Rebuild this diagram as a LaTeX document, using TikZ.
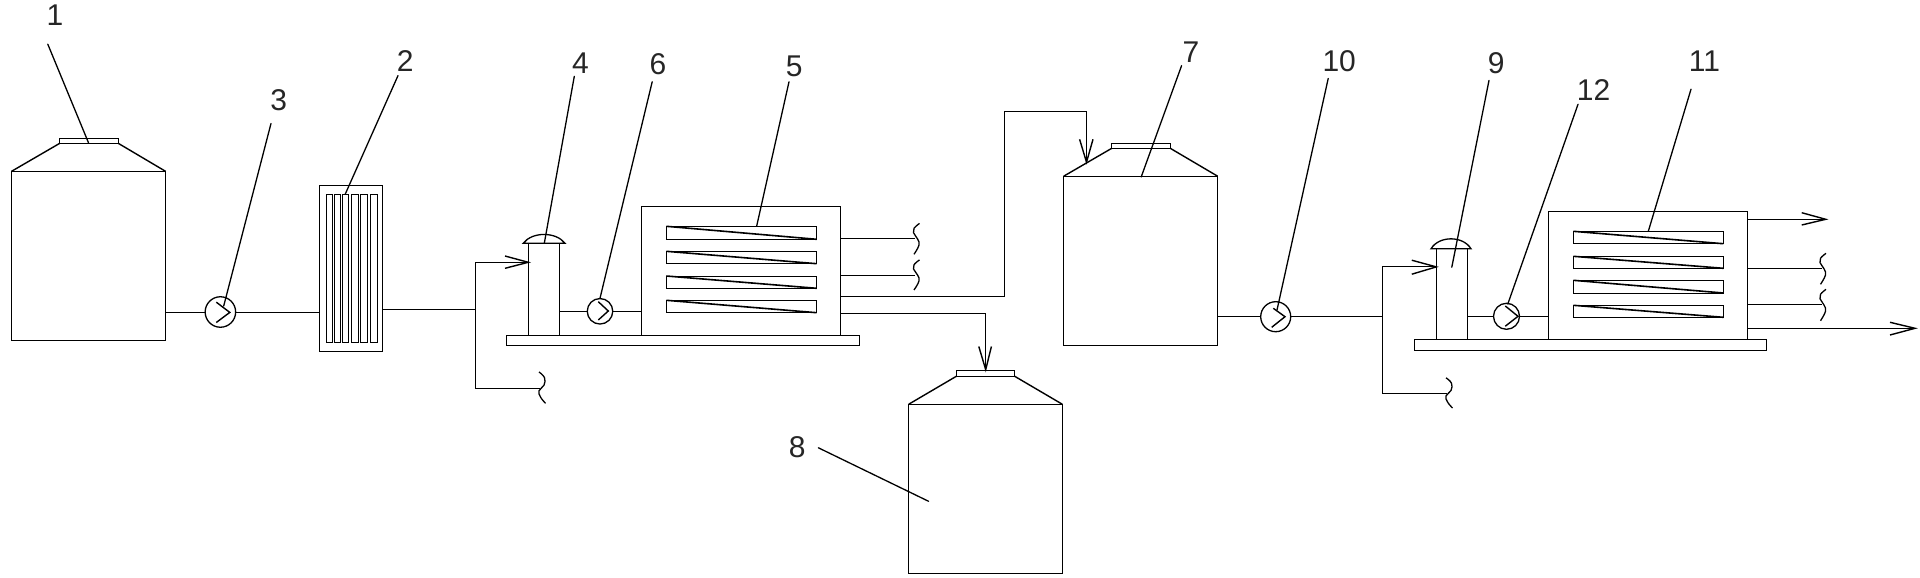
\documentclass[tikz,border=0pt]{standalone}
\usepackage{fontspec}
\setmainfont{Liberation Sans}
\tikzset{
  x=1pt,y=-1pt,
  thinline/.style={line width=1pt,draw=black},
  leader/.style={line width=1.3pt,draw=black,line cap=round},
  diag/.style={line width=1.6pt,draw=black},
  barb/.style={line width=1.4pt,draw=black,line join=miter},
  partbox/.style={draw=black,line width=1pt,inner sep=0pt,outer sep=0pt,fill=none},
  pump/.style={circle,draw=black,line width=1.3pt,inner sep=0pt,outer sep=0pt},
  numlabel/.style={inner sep=0pt,outer sep=0pt,font=\fontsize{30}{30}\selectfont,text=black!85},
}
% name, x1, y1, x2, y2
\newcommand{\partrect}[5]{%
  \pgfmathsetmacro{\wid}{#4-#2}\pgfmathsetmacro{\hei}{#5-#3}%
  \node[partbox,minimum width=\wid pt,minimum height=\hei pt] (#1) at ({(#2+#4)/2},{(#3+#5)/2}) {};}
% name, x1, x2, bodytop, bottom, roof left, roof right, roof top, cap top
\newcommand{\tankpart}[9]{%
  \partrect{#1}{#2}{#4}{#3}{#5}%
  \partrect{#1cap}{#6}{#9}{#7}{#8}%
  \draw[line width=1.4pt] (#1.north west) -- (#1cap.south west);
  \draw[line width=1.4pt] (#1.north east) -- (#1cap.south east);}
% tube with diagonal
\newcommand{\slanttube}[5]{%
  \partrect{#1}{#2}{#3}{#4}{#5}%
  \draw[diag] (#1.north west) -- (#1.south east);}
% break mark: x of left edge, y top, y bottom, opening to the left
\newcommand{\breakmark}[3]{%
  \pgfmathsetmacro{\dy}{(#3-#2)}%
  \draw[line width=1.3pt] plot[smooth,tension=0.7] coordinates {
    ({#1+6.5},{#2}) ({#1+1},{#2+0.16*\dy}) ({#1+0.5},{#2+0.30*\dy}) ({#1+4.5},{#2+0.50*\dy}) ({#1+6},{#2+0.70*\dy}) ({#1+1},{#2+\dy})};}
\newcommand{\breakmarkrev}[3]{%
  \pgfmathsetmacro{\dy}{(#3-#2)}%
  \draw[line width=1.3pt] plot[smooth,tension=0.7] coordinates {
    ({#1},{#2}) ({#1+5.5},{#2+0.18*\dy}) ({#1+5},{#2+0.42*\dy}) ({#1},{#2+0.60*\dy}) ({#1+1.5},{#2+0.80*\dy}) ({#1+6.5},{#2+\dy})};}
\begin{document}
\begin{tikzpicture}
\useasboundingbox[fill=white] (0,0) rectangle (1920,578);

% tanks
\tankpart{tankA}{11.4}{165.7}{171.4}{340.2}{59.6}{118.4}{143.4}{138.2}
\tankpart{tankG}{1063.7}{1217.6}{176.2}{345.4}{1111.4}{1170.6}{148.5}{143.4}
\tankpart{tankH}{908.6}{1062.4}{404.3}{573.2}{956.3}{1014.7}{376.3}{370.4}

% filter 2
\partrect{filt}{319.3}{185.3}{382.7}{351.3}
\partrect{fa}{326.3}{194}{332.7}{342.7}
\partrect{fb}{334.3}{194}{340.7}{342.7}
\partrect{fc}{342.3}{194}{348.7}{342.7}
\partrect{fd}{351.3}{194}{358.7}{342.7}
\partrect{fe}{360.3}{194}{367.7}{342.7}
\partrect{ff}{370.3}{194}{377.7}{342.7}

% first membrane skid
\partrect{baseE}{506.7}{335}{859.6}{345}
\partrect{colD}{528.3}{243.3}{559.3}{335}
\draw[line width=1.3pt] (523.3,243.3) .. controls (532,231.5) and (556,231.5) .. (565,243.3) -- cycle;
\partrect{boxE}{641.7}{206.3}{840.3}{335}
\slanttube{eA}{666.3}{226.3}{816.7}{239.3}
\slanttube{eB}{666.3}{251.3}{816.7}{263.7}
\slanttube{eC}{666.3}{276}{816.7}{288.3}
\slanttube{eD}{666.3}{300.3}{816.7}{312.7}

% second membrane skid
\partrect{baseK}{1414.3}{339.3}{1766.7}{350.3}
\partrect{colI}{1436.3}{248.8}{1467.3}{339.3}
\draw[line width=1.3pt] (1431,248.8) .. controls (1439,235.5) and (1463,235.5) .. (1471,248.8) -- cycle;
\partrect{boxK}{1548.3}{211.7}{1747.7}{339.3}
\slanttube{kA}{1573.3}{231.3}{1723.3}{243.7}
\slanttube{kB}{1573.3}{256.3}{1723.3}{268.3}
\slanttube{kC}{1573.3}{280.3}{1723.3}{293}
\slanttube{kD}{1573.3}{305.3}{1723.3}{317.3}

% pumps
\node[pump,minimum size=30.5pt] (pC) at (220.4,312) {};
\node[pump,minimum size=25.5pt] (pF) at (600,311.3) {};
\node[pump,minimum size=30pt] (pJ) at (1275.7,316.7) {};
\node[pump,minimum size=26pt] (pL) at (1506.5,316.3) {};
\draw[barb] (216.3,302.2) -- (229.8,312.4) -- (216.3,322.5);
\draw[barb] (598.3,301.7) -- (608.3,311) -- (598.3,320);
\draw[barb] (1273.3,308.3) -- (1285,316.7) -- (1271.7,327.3);
\draw[barb] (1505.3,306) -- (1518,316.3) -- (1505.3,326.2);

% pipes
\draw[thinline] (tankA.east |- pC) -- (pC.west);
\draw[thinline] (pC.east) -- (filt.west |- pC);
\coordinate (junA) at (475.3,309.3);
\draw[thinline] (filt.east |- junA) -- (junA);
\coordinate (feedA) at (528.3,262.3);
\coordinate (rejA) at (540,388.3);
\draw[thinline] (feedA) -- (junA |- feedA) -- (junA |- rejA) -- (rejA);
\draw[barb] (505,256) -- (feedA) -- (505,268.3);
\breakmarkrev{539}{372}{403.3}
\draw[thinline] (colD.east |- pF) -- (pF.west);
\draw[thinline] (pF.east) -- (boxE.west |- pF);

\coordinate (oA) at (914.5,238.3);
\coordinate (oB) at (914.5,275.3);
\draw[thinline] (boxE.east |- oA) -- (oA);
\draw[thinline] (boxE.east |- oB) -- (oB);
\breakmark{913}{223.4}{254.3}
\breakmark{913}{259.9}{290}
\coordinate (oC) at (1004.5,296.3);
\coordinate (oCup) at (1004.5,111.3);
\coordinate (tipG) at (1086.5,162.2);
\draw[thinline] (boxE.east |- oC) -- (oC) -- (oCup) -- (tipG |- oCup) -- (tipG);
\draw[barb] (1079.6,139.3) -- (tipG) -- (1093,139.3);
\coordinate (oD) at (985.7,313.3);
\coordinate (tipH) at (985.7,369.7);
\draw[thinline] (boxE.east |- oD) -- (oD) -- (tipH);
\draw[barb] (978.8,346.5) -- (tipH) -- (991.4,346.5);

\draw[thinline] (tankG.east |- pJ) -- (pJ.west);
\coordinate (junB) at (1382,316.7);
\draw[thinline] (pJ.east) -- (junB);
\coordinate (feedB) at (1436.3,266.9);
\coordinate (rejB) at (1447.3,393.3);
\draw[thinline] (feedB) -- (junB |- feedB) -- (junB |- rejB) -- (rejB);
\draw[barb] (1411.8,260.2) -- (feedB) -- (1411.8,274.2);
\breakmarkrev{1446}{377.8}{408}
\draw[thinline] (colI.east |- pL) -- (pL.west);
\draw[thinline] (pL.east) -- (boxK.west |- pL);

\coordinate (tipK) at (1825.7,219.3);
\draw[thinline] (boxK.east |- tipK) -- (tipK);
\draw[barb] (1801.7,212.7) -- (tipK) -- (1801.7,225);
\coordinate (qA) at (1821.7,268.3);
\coordinate (qB) at (1821.7,304.3);
\draw[thinline] (boxK.east |- qA) -- (qA);
\draw[thinline] (boxK.east |- qB) -- (qB);
\breakmark{1819.5}{253.3}{284.3}
\breakmark{1819.5}{289.3}{320.7}
\coordinate (tipL) at (1915,328.3);
\draw[thinline] (boxK.east |- tipL) -- (tipL);
\draw[barb] (1890,322.3) -- (tipL) -- (1890,335);

% number labels and leaders
\node[numlabel] (nA) at (55,15) {1};
\node[numlabel] (nB) at (405.3,60.8) {2};
\node[numlabel] (nC) at (278.8,100.6) {3};
\node[numlabel] (nD) at (580.4,62.7) {4};
\node[numlabel] (nE) at (794.3,66.3) {5};
\node[numlabel] (nF) at (658,64.5) {6};
\node[numlabel] (nG) at (1191,52.3) {7};
\node[numlabel] (nH) at (797.1,447.1) {8};
\node[numlabel] (nI) at (1496.3,62.7) {9};
\node[numlabel] (nJ) at (1339.2,60.8) {10};
\node[numlabel] (nK) at (1704.5,60.8) {11};
\node[numlabel] (nL) at (1593.5,89.6) {12};

\coordinate (lA) at (47.8,44.2);   \coordinate (eA1) at (88.6,143);
\coordinate (lB) at (398,75.6);    \coordinate (eB1) at (345.3,194);
\coordinate (lC) at (271,123.5);   \coordinate (eC1) at (223.7,306);
\coordinate (lD) at (574.3,76.3);  \coordinate (eD1) at (544.3,243.3);
\coordinate (lE) at (789,81.8);    \coordinate (eE1) at (756.7,226);
\coordinate (lF) at (652.2,81.8);  \coordinate (eF1) at (600,298.3);
\coordinate (lG) at (1181.6,65.6); \coordinate (eG1) at (1141.2,176.9);
\coordinate (lH) at (818.4,447.8); \coordinate (eH1) at (928.6,501.3);
\coordinate (lI) at (1489,80.4);   \coordinate (eI1) at (1451.8,267.2);
\coordinate (lJ) at (1328.2,78.5); \coordinate (eJ1) at (1277,310);
\coordinate (lK) at (1691,89.2);   \coordinate (eK1) at (1648.3,231.3);
\coordinate (lL) at (1578,104.3);  \coordinate (eL1) at (1507.8,304);
\foreach \s/\e in {lA/eA1,lB/eB1,lC/eC1,lD/eD1,lE/eE1,lF/eF1,lG/eG1,lH/eH1,lI/eI1,lJ/eJ1,lK/eK1,lL/eL1}
  \draw[leader] (\s) -- (\e);
\end{tikzpicture}
\end{document}
